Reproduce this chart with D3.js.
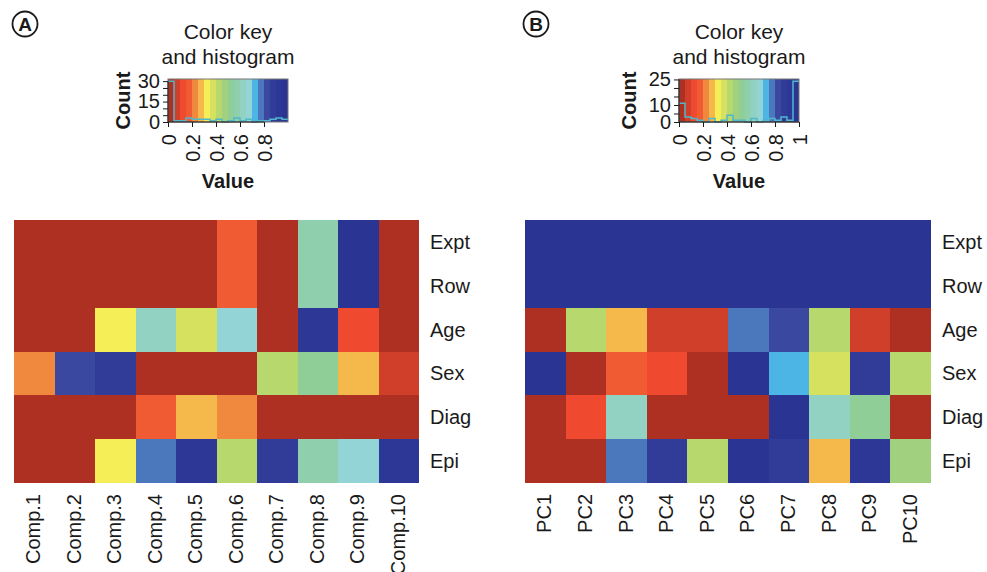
<!DOCTYPE html>
<html>
<head>
<meta charset="utf-8">
<script src="https://cdn.jsdelivr.net/npm/d3@7"></script>
<style>
  html, body { margin: 0; padding: 0; background: #fff; }
  svg { display: block; font-family: "Liberation Sans", Arial, Helvetica, sans-serif; }
</style>
</head>
<body>
<svg id="chart" width="987" height="572"></svg>
<script>
// Rows shared by both heatmaps
const rowNames = ["Expt", "Row", "Age", "Sex", "Diag", "Epi"];

// Panel A: components
const compNames = ["Comp.1", "Comp.2", "Comp.3", "Comp.4", "Comp.5",
                   "Comp.6", "Comp.7", "Comp.8", "Comp.9", "Comp.10"];
const compExpt = [0.01, 0.01, 0.01, 0.01, 0.01, 0.17, 0.01, 0.58, 0.97, 0.01];
const compRow  = [0.01, 0.01, 0.01, 0.01, 0.01, 0.17, 0.01, 0.58, 0.97, 0.01];
const compAge  = [0.02, 0.01, 0.33, 0.63, 0.38, 0.68, 0.02, 0.93, 0.12, 0.03];
const compSex  = [0.22, 0.83, 0.87, 0.01, 0.02, 0.01, 0.43, 0.52, 0.28, 0.07];
const compDiag = [0.01, 0.02, 0.03, 0.16, 0.27, 0.23, 0.01, 0.01, 0.02, 0.01];
const compEpi  = [0.02, 0.03, 0.32, 0.78, 0.94, 0.44, 0.88, 0.57, 0.69, 0.92];

// Panel B: principal components
const pcNames = ["PC1", "PC2", "PC3", "PC4", "PC5", "PC6", "PC7", "PC8", "PC9", "PC10"];
const pcExpt = [0.99, 0.99, 0.99, 0.99, 0.99, 0.99, 0.99, 0.99, 0.99, 0.99];
const pcRow  = [0.99, 0.99, 0.99, 0.99, 0.99, 0.99, 0.99, 0.99, 0.99, 0.99];
const pcAge  = [0.02, 0.43, 0.27, 0.07, 0.08, 0.78, 0.82, 0.42, 0.06, 0.01];
const pcSex  = [0.97, 0.03, 0.17, 0.12, 0.02, 0.96, 0.73, 0.38, 0.87, 0.44];
const pcDiag = [0.01, 0.13, 0.63, 0.02, 0.01, 0.03, 0.98, 0.62, 0.52, 0.02];
const pcEpi  = [0.03, 0.02, 0.77, 0.86, 0.41, 0.97, 0.88, 0.28, 0.91, 0.47];

// 20-step colour palette, low (red) to high (blue)
const palette = ["#ad3022", "#cf3f29", "#ef4a30", "#f05b33", "#f0883d",
                 "#f5b94b", "#f6ee56", "#d6e160", "#b6d86c", "#a1d07f",
                 "#90ce98", "#8fcfae", "#92d2c3", "#93d5d6", "#4db5e5",
                 "#4b78bc", "#3a48a0", "#313c98", "#2d3795", "#2a3492"];

// Key axes
const keyTicksA = [0, 0.2, 0.4, 0.6, 0.8];
const keyTicksB = [0, 0.2, 0.4, 0.6, 0.8, 1];
const countTicksA = [0, 5, 10, 15, 20, 25, 30];
const countLabelsA = [0, 15, 30];
const countTicksB = [0, 5, 10, 15, 20, 25];
const countLabelsB = [0, 10, 25];

const svg = d3.select("#chart");
const ink = "#1a1a1a";
const color = d3.scaleQuantize().domain([0, 1]).range(palette);

function drawPanel(p) {
  const g = svg.append("g");

  // panel letter in a circle
  g.append("circle").attr("cx", p.tagX).attr("cy", 24).attr("r", 12.5)
    .attr("fill", "none").attr("stroke", ink).attr("stroke-width", 1.8);
  g.append("text").attr("x", p.tagX).attr("y", 24).attr("dy", "0.36em")
    .attr("text-anchor", "middle").attr("font-size", 19).attr("font-weight", "bold")
    .attr("fill", ink).text(p.tag);

  // ---- heatmap ----
  const x = d3.scaleBand().domain(p.cols).range([p.hx0, p.hx1]);
  const y = d3.scaleBand().domain(rowNames).range([p.hy0, p.hy1]);
  const cells = [];
  p.rows.forEach((vals, ri) => vals.forEach((v, ci) =>
    cells.push({ row: rowNames[ri], col: p.cols[ci], v })));

  g.append("g").attr("shape-rendering", "crispEdges")
    .selectAll("rect").data(cells).join("rect")
    .attr("x", d => Math.round(x(d.col))).attr("y", d => Math.round(y(d.row)))
    .attr("width", d => Math.round(x(d.col) + x.bandwidth()) - Math.round(x(d.col)))
    .attr("height", d => Math.round(y(d.row) + y.bandwidth()) - Math.round(y(d.row)))
    .attr("fill", d => color(d.v));

  g.append("g").selectAll("text").data(rowNames).join("text")
    .attr("x", p.hx1 + 11).attr("y", d => y(d) + y.bandwidth() / 2).attr("dy", "0.35em")
    .attr("font-size", 20).attr("fill", ink).text(d => d);

  g.append("g").selectAll("text").data(p.cols).join("text")
    .attr("transform", d => `translate(${x(d) + x.bandwidth() / 2 + 6},${p.hy1 + 11}) rotate(-90)`)
    .attr("text-anchor", "end").attr("font-size", 20).attr("fill", ink).text(d => d);

  // ---- colour key with histogram ----
  const kx = d3.scaleLinear().domain([0, 1]).range([p.kx0, p.kx0 + 120]);
  const values = p.rows.flat();
  const bins = d3.bin().domain([0, 1]).thresholds(d3.range(1, 20).map(i => i / 20))(values);
  const counts = bins.map(b => b.length);
  const maxCount = d3.max(counts);
  const ky = d3.scaleLinear().domain([0, maxCount / 0.95]).range([122, 79]);

  g.append("g").attr("shape-rendering", "crispEdges")
    .selectAll("rect").data(palette).join("rect")
    .attr("x", c => Math.round(kx(color.invertExtent(c)[0])))
    .attr("width", c => Math.round(kx(color.invertExtent(c)[1])) - Math.round(kx(color.invertExtent(c)[0])))
    .attr("y", 79).attr("height", 43).attr("fill", c => c);

  const stepPts = bins.map((b, i) => [b.x0, counts[i]]);
  stepPts.push([1, counts[counts.length - 1]]);
  g.append("path").datum(stepPts)
    .attr("d", d3.line().x(d => kx(d[0])).y(d => ky(d[1])).curve(d3.curveStepAfter))
    .attr("fill", "none").attr("stroke", "#4fb8cc").attr("stroke-width", 1.5);

  g.append("rect").attr("x", p.kx0).attr("y", 79).attr("width", 120).attr("height", 43)
    .attr("fill", "none").attr("stroke", "#777").attr("stroke-width", 1);

  // count axis
  const yAxis = g.append("g").attr("transform", `translate(${p.kx0},0)`)
    .call(d3.axisLeft(ky).tickValues(p.countTicks).tickSize(5).tickSizeOuter(0)
      .tickFormat(d => p.countLabels.includes(d) ? d : ""));
  yAxis.select(".domain").remove();
  yAxis.append("line").attr("y1", ky(p.countTicks[0])).attr("y2", ky(p.countTicks[p.countTicks.length - 1]))
    .attr("stroke", ink);
  yAxis.selectAll(".tick line").attr("stroke", ink);
  yAxis.selectAll(".tick text").attr("font-size", 20).attr("fill", ink)
    .attr("font-family", "Liberation Sans, Arial, sans-serif").attr("x", -8);

  // value axis
  const xAxis = g.append("g").attr("transform", "translate(0,122)")
    .call(d3.axisBottom(kx).tickValues(p.keyTicks).tickSize(5).tickSizeOuter(0)
      .tickFormat(d => d3.format("~g")(d)));
  xAxis.select(".domain").remove();
  xAxis.append("line").attr("x1", kx(p.keyTicks[0])).attr("x2", kx(p.keyTicks[p.keyTicks.length - 1]))
    .attr("stroke", ink);
  xAxis.selectAll(".tick line").attr("stroke", ink);
  xAxis.selectAll(".tick text").attr("font-size", 20).attr("fill", ink)
    .attr("font-family", "Liberation Sans, Arial, sans-serif")
    .attr("y", 0).attr("dy", 0).attr("text-anchor", "end")
    .attr("transform", "translate(7,12) rotate(-90)");

  // key titles
  const kc = p.kx0 + 60;
  g.append("text").attr("x", kc).attr("y", 39).attr("text-anchor", "middle")
    .attr("font-size", 21).attr("fill", ink).text("Color key");
  g.append("text").attr("x", kc).attr("y", 64).attr("text-anchor", "middle")
    .attr("font-size", 21).attr("fill", ink).text("and histogram");
  g.append("text").attr("x", kc).attr("y", 188).attr("text-anchor", "middle")
    .attr("font-size", 20).attr("font-weight", "bold").attr("fill", ink).text("Value");
  g.append("text").attr("transform", `translate(${p.countX},100.5) rotate(-90)`)
    .attr("text-anchor", "middle").attr("font-size", 20).attr("font-weight", "bold")
    .attr("fill", ink).text("Count");
}

drawPanel({
  tag: "A", tagX: 25,
  cols: compNames,
  rows: [compExpt, compRow, compAge, compSex, compDiag, compEpi],
  hx0: 14, hx1: 419, hy0: 220, hy1: 483,
  kx0: 168, countX: 130,
  keyTicks: keyTicksA, countTicks: countTicksA, countLabels: countLabelsA
});

drawPanel({
  tag: "B", tagX: 536,
  cols: pcNames,
  rows: [pcExpt, pcRow, pcAge, pcSex, pcDiag, pcEpi],
  hx0: 525, hx1: 931, hy0: 220, hy1: 483,
  kx0: 679, countX: 636,
  keyTicks: keyTicksB, countTicks: countTicksB, countLabels: countLabelsB
});
</script>
</body>
</html>
